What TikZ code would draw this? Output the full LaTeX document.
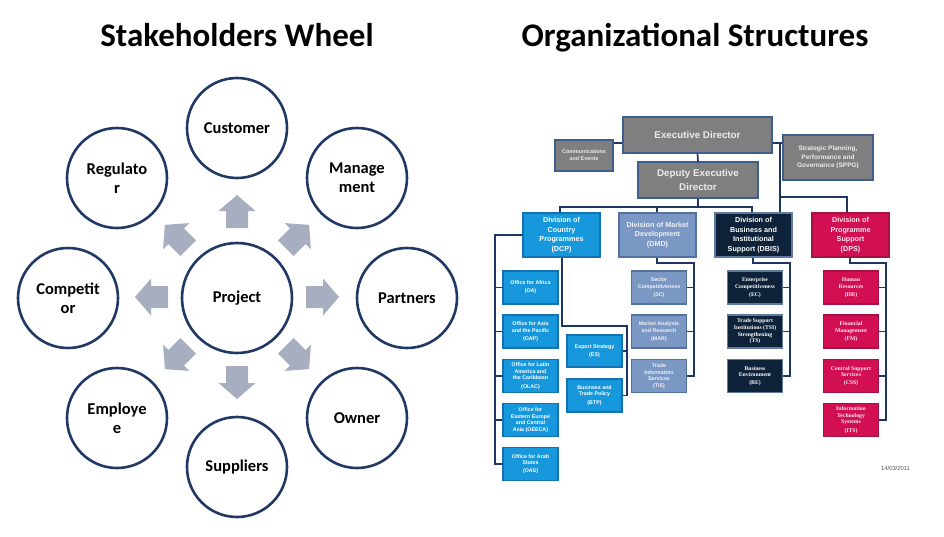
\documentclass[tikz,border=0pt]{standalone}
\usepackage{fontspec}
\newfontfamily\carlito{Carlito}
\newfontfamily\arialf{Liberation Sans}
\newfontfamily\timesf{Liberation Serif}
\definecolor{navy}{HTML}{203864}
\definecolor{arrowgray}{HTML}{A6AEBF}
\definecolor{exgray}{HTML}{7F7F7F}
\definecolor{exborder}{HTML}{3E5E8E}
\definecolor{dcpblue}{HTML}{1898DC}
\definecolor{dcpborder}{HTML}{1572B2}
\definecolor{dmdblue}{HTML}{7B97C3}
\definecolor{dmdborder}{HTML}{55729F}
\definecolor{dbisnavy}{HTML}{0E2239}
\definecolor{dbisborder}{HTML}{5E7A9C}
\definecolor{dpsred}{HTML}{D20F52}
\definecolor{dpsborder}{HTML}{A5123F}
\definecolor{conncol}{HTML}{1F3563}
\tikzset{
  wheel/.style={circle, draw=navy, line width=2.6pt, fill=white, minimum size=100pt, inner sep=0pt, align=center,
    font=\carlito\bfseries\fontsize{16.5}{19}\selectfont},
  hub/.style={wheel, minimum size=110pt},
  title/.style={font=\carlito\bfseries\fontsize{33}{36}\selectfont, inner sep=0pt, anchor=base},
  orgbox/.style={inner sep=0pt, align=center, line width=1.1pt},
  graybox/.style={orgbox, fill=exgray, draw=exborder, text={rgb,255:red,236;green,236;blue,236}},
  dcpbox/.style={orgbox, fill=dcpblue, draw=dcpborder, text=white},
  dmdbox/.style={orgbox, fill=dmdblue, draw=dmdborder, text={rgb,255:red,240;green,242;blue,248}},
  dbisbox/.style={orgbox, fill=dbisnavy, draw=dbisborder, text=white},
  dpsbox/.style={orgbox, fill=dpsred, draw=dpsborder, text={rgb,255:red,250;green,235;blue,240}},
  divsize/.style={minimum width=77pt, minimum height=44pt, font=\arialf\bfseries\fontsize{7.2}{9.5}\selectfont},
  kidsize/.style={minimum width=55pt, minimum height=33pt, font=\arialf\bfseries\fontsize{5.3}{6.6}\selectfont},
  kidserif/.style={minimum width=55pt, minimum height=33pt, font=\timesf\bfseries\fontsize{5.7}{6.6}\selectfont},
  conn/.style={draw=conncol, line width=1.7pt},
}
\begin{document}
\begin{tikzpicture}[x=1pt,y=-1pt]
\useasboundingbox (0,0) rectangle (944,536);
% ---------- titles ----------
\node[title] (t1) at (237,46) {Stakeholders Wheel};
\node[title] (t2) at (695,46) {Organizational Structures};
% ---------- wheel arrows ----------
\foreach \a in {0,45,...,315}
  \fill[arrowgray, shift={(237,297)}, rotate=\a]
    (69,-11) -- (86,-11) -- (86,-18.5) -- (102,0) -- (86,18.5) -- (86,11) -- (69,11) -- cycle;
% ---------- wheel circles ----------
\node[hub] (proj) at (237,298) {Project};
\node[wheel] (cust) at (237,128) {Customer};
\node[wheel] (mgmt) at (357,178) {Manage\\ment};
\node[wheel] (part) at (407,298) {Partners};
\node[wheel] (own) at (357,418) {Owner};
\node[wheel] (sup) at (237,467) {Suppliers};
\node[wheel] (emp) at (117,418) {Employe\\e};
\node[wheel] (comp) at (68,298) {Competit\\or};
\node[wheel] (reg) at (117,178) {Regulato\\r};
% ---------- org chart boxes ----------
\node[graybox, minimum width=149pt, minimum height=36pt, font=\arialf\bfseries\fontsize{9.8}{12}\selectfont] (ed) at (697.5,135) {Executive Director};
\node[graybox, minimum width=58pt, minimum height=31pt, font=\arialf\bfseries\fontsize{5.4}{7}\selectfont] (comms) at (584,155.5) {Communications\\and Events};
\node[graybox, minimum width=120pt, minimum height=36pt, font=\arialf\bfseries\fontsize{9.8}{13.5}\selectfont] (dep) at (698,180) {Deputy Executive\\Director};
\node[graybox, minimum width=90pt, minimum height=45pt, font=\arialf\bfseries\fontsize{6.5}{8.2}\selectfont] (sppg) at (828,157.5) {Strategic Planning,\\Performance and\\Governance (SPPG)};
% divisions
\node[dcpbox, divsize] (dcp) at (561.5,235) {Division of\\Country\\Programmes\\(DCP)};
\node[dmdbox, divsize] (dmd) at (657.5,235) {Division of Market\\Development\\(DMD)};
\node[dbisbox, divsize] (dbis) at (753.5,235) {Division of\\Business and\\Institutional\\Support (DBIS)};
\node[dpsbox, divsize] (dps) at (850.5,235) {Division of\\Programme\\Support\\(DPS)};
% DCP offices
\node[dcpbox, kidsize] (oa) at (530.5,287.5) {Office for Africa\\[1.5pt](OA)};
\node[dcpbox, kidsize] (oap) at (530.5,331.5) {Office for Asia\\and the Pacific\\[1.5pt](OAP)};
\node[dcpbox, kidsize] (olac) at (530.5,376) {Office for Latin\\America and\\the Caribbean\\[1.5pt](OLAC)};
\node[dcpbox, kidsize] (oeeca) at (530.5,420) {Office for\\Eastern Europe\\and Central\\Asia (OEECA)};
\node[dcpbox, kidsize] (oas) at (530.5,464) {Office for Arab\\States\\[1.5pt](OAS)};
\node[dcpbox, kidsize, minimum height=32pt] (es) at (594.5,351) {Export Strategy\\[2pt](ES)};
\node[dcpbox, kidsize] (btp) at (594.5,395.5) {Business and\\Trade Policy\\[2pt](BTP)};
% DMD sections
\node[dmdbox, kidsize] (sc) at (659,287.5) {Sector\\Competitiveness\\[1.5pt](SC)};
\node[dmdbox, kidsize] (mar) at (659,331.5) {Market Analysis\\and Research\\[1.5pt](MAR)};
\node[dmdbox, kidsize] (tis) at (659,376) {Trade\\Information\\Services\\(TIS)};
% DBIS sections
\node[dbisbox, kidserif] (ec) at (755,287.5) {Enterprise\\Competitiveness\\[1.5pt](EC)};
\node[dbisbox, kidserif] (tsi) at (755,331.5) {Trade Support\\Institutions (TSI)\\Strengthening\\(TS)};
\node[dbisbox, kidserif] (be) at (755,376) {Business\\Environment\\[1.5pt](BE)};
% DPS sections
\node[dpsbox, kidserif] (hr) at (851,287.5) {Human\\Resources\\[1.5pt](HR)};
\node[dpsbox, kidserif] (fm) at (851,331.5) {Financial\\Management\\[1.5pt](FM)};
\node[dpsbox, kidserif] (css) at (851,376) {Central Support\\Services\\[1.5pt](CSS)};
\node[dpsbox, kidserif] (its) at (851,420) {Information\\Technology\\Systems\\[1.5pt](ITS)};
% date
\node[font=\arialf\fontsize{5.8}{7}\selectfont, text={rgb,255:red,80;green,80;blue,80}, inner sep=0pt] (date) at (895.5,468) {14/03/2011};
% ---------- org connectors ----------
\draw[conn] (ed.south) -- (dep.north);
\draw[conn] (comms.east |- 0,143) -- (ed.west |- 0,143);
\draw[conn] (ed.east |- 0,143) -- (sppg.west |- 0,143);
\draw[conn] (780,143) -- (dbis.north -| 780,0);
\draw[conn] (780,197) -| (dps.north -| 847,0);
\draw[conn] (dep.south) -- (698,207);
\draw[conn] (dcp.north -| 560,0) |- (752,207) -- (dbis.north -| 752,0);
\draw[conn] (657,207) -- (dmd.north -| 657,0);
% DCP left bus
\draw[conn] (dcp.west) -| (495,464) -- (oas.west);
\foreach \n in {oa,oap,olac,oeeca} \draw[conn] (oa.west -| 495,0) |- (\n.west);
% DCP lower bus
\draw[conn] (dcp.south -| 562,0) |- (627,326) -- (627,395.5) -- (btp.east);
\draw[conn] (627,351) -- (es.east);
% DMD bus
\draw[conn] (dmd.south -| 657,0) |- (694,263) |- (tis.east);
\draw[conn] (694,287.5) -- (sc.east);
\draw[conn] (694,331.5) -- (mar.east);
% DBIS bus
\draw[conn] (dbis.south -| 753,0) |- (790,263) |- (be.east);
\draw[conn] (790,287.5) -- (ec.east);
\draw[conn] (790,331.5) -- (tsi.east);
% DPS bus
\draw[conn] (dps.south -| 850,0) |- (886,263) |- (its.east);
\draw[conn] (886,287.5) -- (hr.east);
\draw[conn] (886,331.5) -- (fm.east);
\draw[conn] (886,376) -- (css.east);
\end{tikzpicture}
\end{document}
